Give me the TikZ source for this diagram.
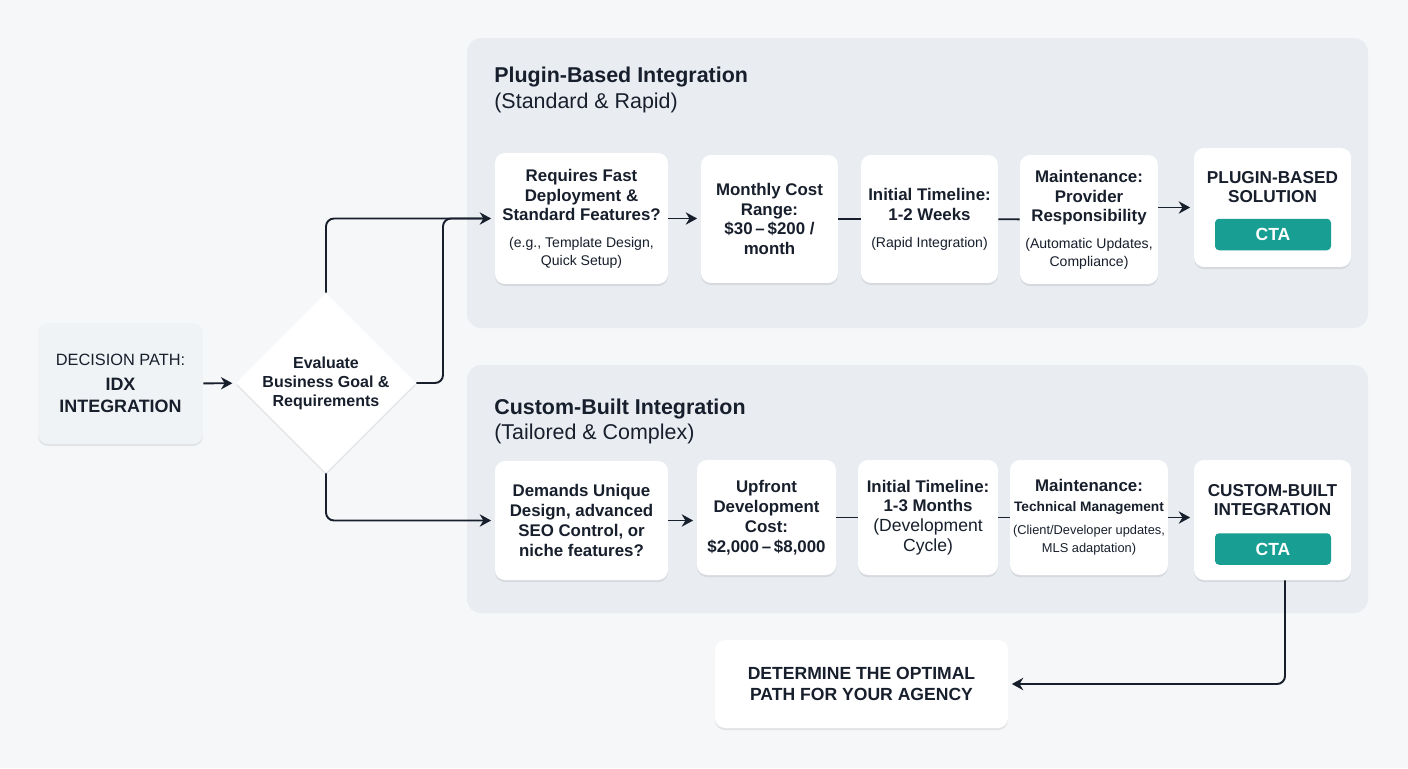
\documentclass[tikz,border=0pt]{standalone}
\usepackage{fontspec}
\setmainfont{Liberation Sans}
\usepackage{xcolor}
\usetikzlibrary{shapes.geometric, arrows.meta, positioning, shadows}

\definecolor{bgc}{RGB}{245,247,249}
\definecolor{panelc}{RGB}{233,237,242}
\definecolor{startc}{RGB}{240,243,246}
\definecolor{ink}{RGB}{24,31,44}
\definecolor{ctac}{RGB}{24,158,146}

\newcommand{\cardhd}{\fontsize{9.6}{11.3}\selectfont\bfseries}
\newcommand{\cardsm}{\fontsize{8}{11.3}\selectfont\mdseries}
\newcommand{\idxfont}{\fontsize{10.2}{12.5}\selectfont\bfseries}

\begin{document}
\begin{tikzpicture}[
    x=0.02cm, y=-0.02cm,
    panel/.style={fill=panelc, rounded corners=0.28cm},
    card/.style={rectangle, fill=white, rounded corners=0.2cm,
                 align=center, text=ink, inner sep=0pt, font=\cardhd,
                 drop shadow={shadow xshift=0pt, shadow yshift=-1.2pt, opacity=0.08, fill=black}},
    startbox/.style={card, fill=startc, minimum width=3.3cm, minimum height=2.42cm,
                     font=\fontsize{9.3}{12.5}\selectfont},
    decbox/.style={diamond, fill=white, inner sep=0pt, minimum width=3.6cm, minimum height=3.6cm,
                   drop shadow={shadow xshift=0pt, shadow yshift=-1.2pt, opacity=0.08, fill=black}},
    dectext/.style={align=center, text=ink, font=\fontsize{9.1}{10.8}\selectfont\bfseries},
    restxt/.style={align=center, text=ink, font=\fontsize{9.8}{11.3}\selectfont\bfseries},
    cta/.style={rectangle, fill=ctac, rounded corners=0.08cm, text=white, inner sep=0pt,
                minimum width=2.32cm, minimum height=0.63cm, font=\fontsize{10}{12}\selectfont\bfseries},
    ttl/.style={anchor=base west, text=ink, inner sep=0pt, font=\fontsize{12.2}{14.7}\selectfont\bfseries},
    sub/.style={anchor=base west, text=ink, inner sep=0pt, font=\fontsize{12.2}{14.7}\selectfont},
    link/.style={ink, line width=1.1pt},
    arr/.style={link, -{Stealth[length=6.5pt, width=7pt]}, shorten >=2pt}
]
\fill[bgc] (0,0) rectangle (1408,768);
\useasboundingbox (0,0) rectangle (1408,768);

% the two option panels
\fill[panel] (467,38) rectangle (1368,328);
\fill[panel] (467,365) rectangle (1368,613);
\node[ttl] (ttl1) at (494,82) {Plugin-Based Integration};
\node[sub] (sub1) at (494,108) {(Standard \& Rapid)};
\node[ttl] (ttl2) at (494,414) {Custom-Built Integration};
\node[sub] (sub2) at (494,439) {(Tailored \& Complex)};

% start and decision
\node[startbox] (start) at (120.5,383.5) {DECISION PATH:\\[1.5pt]\idxfont IDX\\\idxfont INTEGRATION};
\node[decbox] (dec) at (326,383) {};
\node[dectext] (dectxt) at (dec) {Evaluate\\Business Goal \&\\Requirements};

% plugin-based row
\node[card, minimum width=3.46cm, minimum height=2.62cm] (q1) at (581.5,218.5)
  {Requires Fast\\Deployment \&\\Standard Features?\\[4pt]\cardsm (e.g., Template Design,\\[-1.5pt]\cardsm Quick Setup)};
\node[card, minimum width=2.74cm, minimum height=2.56cm] (cost1) at (769.5,219)
  {Monthly Cost\\Range:\\\$30\,--\,\$200 /\\month};
\node[card, minimum width=2.74cm, minimum height=2.56cm] (time1) at (929.5,219)
  {Initial Timeline:\\1-2 Weeks\\[4pt]\cardsm (Rapid Integration)};
\node[card, minimum width=2.76cm, minimum height=2.58cm] (maint1) at (1089,219.5)
  {Maintenance:\\Provider\\Responsibility\\[4pt]\cardsm (Automatic Updates,\\[-1.5pt]\cardsm Compliance)};
\node[card, minimum width=3.14cm, minimum height=2.38cm] (res1) at (1272.5,207.5) {};
\node[restxt] (res1t) at (1272.5,187) {PLUGIN-BASED\\SOLUTION};
\node[cta] (cta1) at (1273,234.5) {CTA};

% custom-built row
\node[card, minimum width=3.46cm, minimum height=2.38cm] (q2) at (581.5,520.5)
  {Demands Unique\\Design, advanced\\SEO Control, or\\niche features?};
\node[card, minimum width=2.78cm, minimum height=2.3cm] (cost2) at (766.5,517.5)
  {Upfront\\Development\\Cost:\\\$2,000\,--\,\$8,000};
\node[card, minimum width=2.8cm, minimum height=2.3cm] (time2) at (928,517.5)
  {Initial Timeline:\\1-3 Months\\\fontsize{10}{11.3}\selectfont\mdseries (Development\\\fontsize{10}{11.3}\selectfont\mdseries Cycle)};
\node[card, minimum width=3.16cm, minimum height=2.3cm] (maint2) at (1089,517.5)
  {Maintenance:\\\fontsize{7.8}{11}\selectfont\bfseries Technical Management\\[2pt]\fontsize{7.3}{10.5}\selectfont\mdseries (Client/Developer updates,\\[-1pt]\fontsize{7.3}{10.5}\selectfont\mdseries MLS adaptation)};
\node[card, minimum width=3.14cm, minimum height=2.4cm] (res2) at (1272.5,520) {};
\node[restxt] (res2t) at (1272.5,500) {CUSTOM-BUILT\\INTEGRATION};
\node[cta] (cta2) at (1273,549) {CTA};

\node[card, minimum width=5.86cm, minimum height=1.76cm, font=\fontsize{10}{11.9}\selectfont\bfseries] (final) at (861.5,684)
  {DETERMINE THE OPTIMAL\\PATH FOR YOUR AGENCY};

% connectors
\coordinate (mrg) at (443,218.5);
\draw[arr] (start) -- (dec);
\draw[arr, rounded corners=0.16cm] (dec.north) |- (q1.west);
\draw[link, rounded corners=0.16cm, shorten >=6pt] (dec.east) -| (mrg) -- (q1.west);
\draw[arr, rounded corners=0.16cm] (dec.south) |- (q2.west);

\draw[arr] (q1.east) -- (q1.east -| cost1.west);
\draw[link] (cost1) -- (time1);
\draw[link] (time1) -- (maint1);
\draw[arr] (maint1.east |- res1.west) -- (res1.west);

\draw[arr] (q2.east) -- (q2.east -| cost2.west);
\draw[link] (cost2) -- (time2);
\draw[link] (time2) -- (maint2);
\draw[arr] (maint2.east) -- (maint2.east -| res2.west);
\draw[arr, rounded corners=0.16cm] ([xshift=0.25cm]res2.south) |- (final.east);
\end{tikzpicture}
\end{document}
